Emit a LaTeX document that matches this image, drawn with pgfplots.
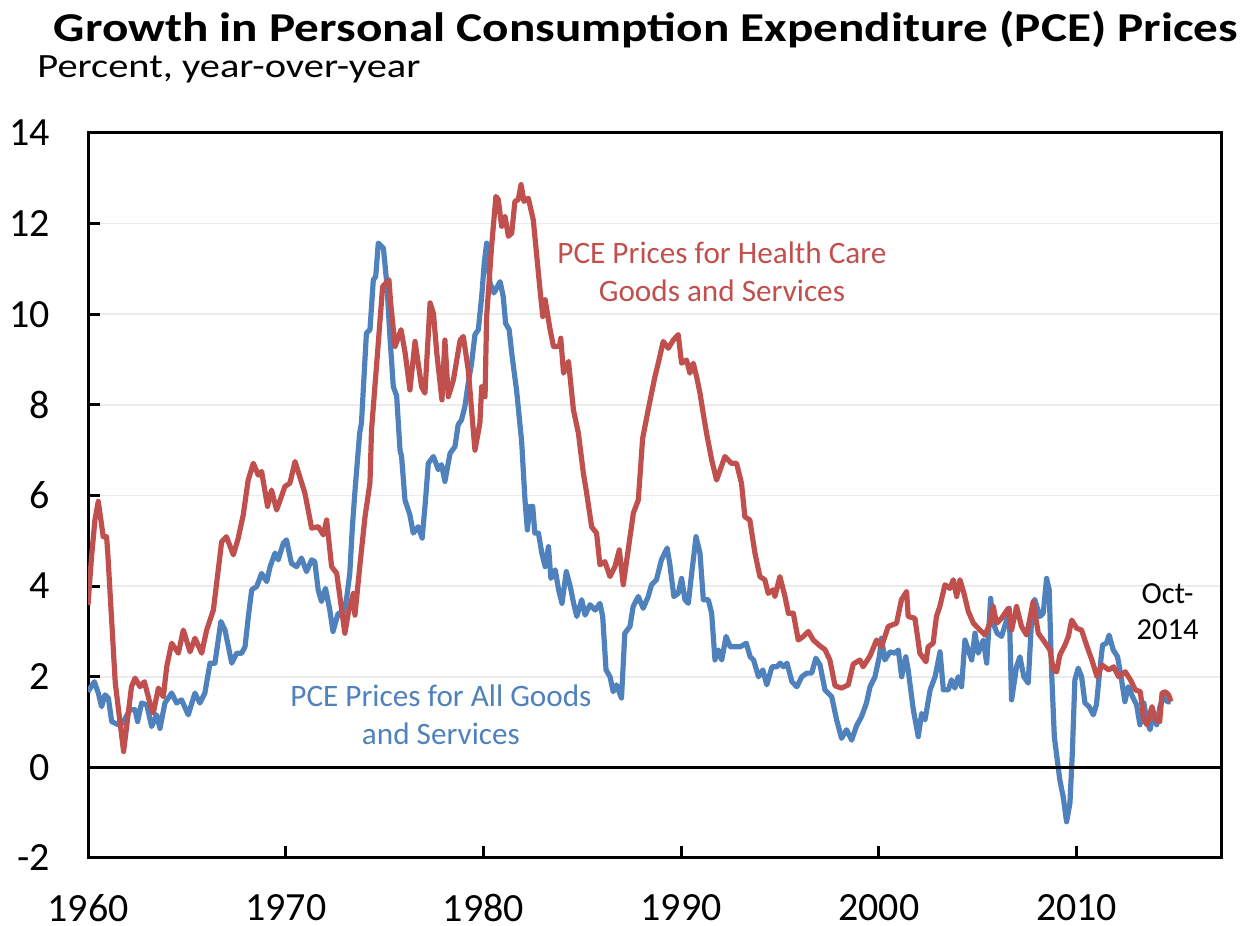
\documentclass[border=0pt]{standalone}
\usepackage{pgfplots}
\pgfplotsset{compat=1.18}
\usepackage{graphicx}
\usepackage{fontspec}
\setmainfont{Carlito}
\definecolor{pceblue}{RGB}{79,129,189}
\definecolor{pcered}{RGB}{192,80,77}
\begin{document}
\begin{tikzpicture}
\useasboundingbox (-44pt,-34pt) rectangle (577.5pt,429pt);
\begin{axis}[
    scale only axis,
    width=566.5pt, height=362.5pt,
    at={(0,0)}, anchor=south west,
    xmin=1960, xmax=2017.3,
    ymin=-2, ymax=14,
    xtick={1960,1970,1980,1990,2000,2010},
    xticklabels={1960,1970,1980,1990,2000,2010},
    ytick={-2,0,2,4,6,8,10,12,14},
    yticklabels={-2,0,2,4,6,8,10,12,14},
    xtick pos=left, ytick pos=left,
    tick align=inside,
    major tick length=6pt,
    every tick/.style={black, line width=1.5pt},
    axis line style={line width=1.5pt},
    ymajorgrids,
    major grid style={black!8, line width=0.8pt},
    ticklabel style={font=\fontsize{20}{22}\selectfont, inner sep=0pt},
    yticklabel style={xshift=-19pt},
    xticklabel style={yshift=-18pt},
    clip=true,
]
\addplot[pceblue, line width=2.6pt, line join=round] coordinates {
(1960.0,1.67)(1960.32,1.89)(1960.52,1.64)(1960.69,1.34)(1960.86,1.6)(1961.03,1.53)
(1961.2,1.01)(1961.53,0.94)(1961.74,0.97)(1962.12,1.27)(1962.38,1.27)(1962.51,1.01)
(1962.71,1.42)(1962.97,1.38)(1963.22,0.9)(1963.47,1.16)(1963.64,0.86)(1963.89,1.42)
(1964.23,1.64)(1964.48,1.42)(1964.73,1.49)(1965.07,1.16)(1965.41,1.64)(1965.66,1.42)
(1965.91,1.64)(1966.17,2.3)(1966.42,2.3)(1966.72,3.22)(1966.93,3.03)(1967.27,2.3)
(1967.52,2.52)(1967.77,2.52)(1967.94,2.66)(1968.11,3.33)(1968.28,3.92)(1968.53,3.99)
(1968.78,4.28)(1969.04,4.1)(1969.21,4.43)(1969.46,4.73)(1969.62,4.58)(1969.88,4.95)
(1970.04,5.02)(1970.29,4.5)(1970.55,4.43)(1970.8,4.62)(1971.05,4.32)(1971.31,4.58)
(1971.47,4.54)(1971.64,3.92)(1971.81,3.66)(1972.01,3.95)(1972.23,3.47)(1972.39,3.0)
(1972.65,3.4)(1972.9,3.4)(1973.07,3.7)(1973.24,4.28)(1973.37,5.31)(1973.52,6.2)
(1973.74,7.38)(1973.83,7.6)(1974.08,9.58)(1974.26,9.66)(1974.43,10.76)(1974.55,10.83)
(1974.68,11.57)(1974.94,11.46)(1975.11,10.69)(1975.27,9.51)(1975.44,8.4)(1975.61,8.2)
(1975.78,7.0)(1975.86,6.86)(1976.03,5.9)(1976.28,5.57)(1976.45,5.17)(1976.7,5.31)
(1976.9,5.06)(1977.07,5.9)(1977.21,6.71)(1977.47,6.86)(1977.72,6.57)(1977.88,6.68)
(1978.05,6.31)(1978.31,6.93)(1978.56,7.08)(1978.72,7.56)(1978.89,7.67)(1979.06,7.96)
(1979.23,8.48)(1979.4,8.92)(1979.57,9.55)(1979.74,9.66)(1979.91,10.39)(1980.04,11.13)
(1980.16,11.57)(1980.33,10.69)(1980.53,10.47)(1980.84,10.72)(1981.0,10.39)(1981.12,9.8)
(1981.3,9.66)(1981.43,9.14)(1981.68,8.3)(1981.93,7.2)(1982.1,5.9)(1982.22,5.24)
(1982.35,5.76)(1982.49,5.76)(1982.6,5.17)(1982.78,5.17)(1982.95,4.73)(1983.12,4.43)
(1983.29,4.87)(1983.41,4.17)(1983.63,4.36)(1983.8,3.92)(1983.97,3.62)(1984.19,4.32)
(1984.39,3.99)(1984.56,3.62)(1984.72,3.33)(1984.97,3.7)(1985.14,3.36)(1985.39,3.59)
(1985.65,3.47)(1985.89,3.62)(1986.03,3.33)(1986.2,2.15)(1986.4,2.0)(1986.56,1.67)
(1986.73,1.82)(1986.98,1.53)(1987.15,2.96)(1987.41,3.11)(1987.57,3.55)(1987.83,3.77)
(1988.08,3.51)(1988.33,3.77)(1988.5,4.03)(1988.75,4.14)(1989.0,4.58)(1989.29,4.84)
(1989.42,4.5)(1989.63,3.77)(1989.85,3.84)(1990.02,4.17)(1990.19,3.7)(1990.36,3.62)
(1990.53,4.28)(1990.75,5.09)(1990.95,4.73)(1991.12,3.7)(1991.37,3.7)(1991.54,3.4)
(1991.71,2.37)(1991.88,2.59)(1992.05,2.37)(1992.27,2.89)(1992.48,2.66)(1992.73,2.66)
(1992.98,2.66)(1993.29,2.74)(1993.49,2.44)(1993.66,2.37)(1993.91,2.0)(1994.13,2.15)
(1994.33,1.82)(1994.59,2.22)(1994.84,2.22)(1995.01,2.3)(1995.18,2.22)(1995.35,2.3)
(1995.6,1.89)(1995.85,1.78)(1996.1,2.0)(1996.35,2.08)(1996.6,2.08)(1996.81,2.41)
(1997.02,2.26)(1997.27,1.71)(1997.61,1.56)(1997.86,1.05)(1998.11,0.64)(1998.36,0.83)
(1998.62,0.6)(1998.87,0.92)(1999.12,1.12)(1999.37,1.42)(1999.55,1.78)(1999.8,2.0)
(2000.02,2.44)(2000.13,2.85)(2000.3,2.37)(2000.56,2.55)(2000.81,2.52)(2000.98,2.59)
(2001.15,2.0)(2001.36,2.44)(2001.48,2.15)(2001.74,1.27)(2001.99,0.68)(2002.16,1.19)
(2002.33,1.05)(2002.59,1.71)(2002.84,2.0)(2003.09,2.55)(2003.26,1.71)(2003.51,1.71)
(2003.67,1.93)(2003.84,1.75)(2004.01,2.0)(2004.18,1.78)(2004.35,2.81)(2004.52,2.59)
(2004.69,2.37)(2004.86,2.96)(2005.02,2.52)(2005.28,2.81)(2005.45,2.3)(2005.65,3.73)
(2005.78,3.18)(2005.98,2.96)(2006.2,2.89)(2006.46,3.25)(2006.59,3.51)(2006.71,1.49)
(2006.96,2.22)(2007.13,2.44)(2007.33,2.0)(2007.55,1.86)(2007.72,3.25)(2007.88,3.7)
(2008.14,3.33)(2008.31,3.4)(2008.48,4.17)(2008.61,3.92)(2008.73,2.15)(2008.87,0.68)
(2009.02,0.16)(2009.15,-0.28)(2009.32,-0.65)(2009.49,-1.2)(2009.66,-0.79)(2009.78,0.31)
(2009.91,1.93)(2010.08,2.19)(2010.25,2.0)(2010.42,1.42)(2010.63,1.34)(2010.84,1.16)
(2011.0,1.38)(2011.17,2.15)(2011.31,2.7)(2011.51,2.74)(2011.64,2.92)(2011.85,2.59)
(2012.07,2.44)(2012.27,1.93)(2012.44,1.45)(2012.61,1.78)(2012.86,1.53)(2013.03,1.38)
(2013.2,0.94)(2013.4,1.42)(2013.54,1.05)(2013.71,0.83)(2013.88,1.19)(2014.05,0.94)
(2014.21,1.34)(2014.38,1.56)(2014.59,1.45)(2014.75,1.45)
};
\addplot[pcered, line width=2.6pt, line join=round] coordinates {
(1960.0,3.58)(1960.18,4.65)(1960.35,5.46)(1960.52,5.87)(1960.77,5.09)(1960.94,5.09)
(1961.0,4.73)(1961.38,1.86)(1961.8,0.35)(1962.2,1.78)(1962.38,1.97)(1962.63,1.78)
(1962.85,1.89)(1963.22,1.27)(1963.3,1.2)(1963.56,1.75)(1963.81,1.56)(1963.98,2.22)
(1964.23,2.74)(1964.57,2.52)(1964.82,3.03)(1965.16,2.55)(1965.41,2.85)(1965.75,2.52)
(1966.0,3.03)(1966.34,3.47)(1966.76,4.98)(1967.0,5.09)(1967.35,4.69)(1967.6,5.06)
(1967.85,5.57)(1968.1,6.34)(1968.36,6.71)(1968.61,6.45)(1968.78,6.53)(1969.08,5.76)
(1969.28,6.12)(1969.54,5.68)(1969.96,6.2)(1970.21,6.27)(1970.47,6.75)(1970.97,6.05)
(1971.31,5.28)(1971.65,5.31)(1971.9,5.13)(1972.07,5.46)(1972.32,4.43)(1972.58,4.28)
(1972.99,2.96)(1973.16,3.4)(1973.42,3.84)(1973.5,3.36)(1973.76,4.5)(1974.01,5.53)
(1974.26,6.28)(1974.34,7.45)(1974.68,9.36)(1974.9,10.61)(1975.22,10.76)(1975.3,10.28)
(1975.53,9.29)(1975.83,9.66)(1976.04,9.14)(1976.28,8.33)(1976.54,9.4)(1976.87,8.4)
(1977.04,8.26)(1977.3,10.25)(1977.47,10.02)(1977.64,9.14)(1977.9,8.11)(1978.05,9.43)
(1978.22,8.18)(1978.48,8.55)(1978.82,9.43)(1978.98,9.51)(1979.23,8.77)(1979.57,7.0)
(1979.82,7.6)(1979.91,8.4)(1980.08,8.18)(1980.16,9.95)(1980.41,11.49)(1980.63,12.6)
(1980.75,12.53)(1980.92,11.94)(1981.09,12.16)(1981.26,11.72)(1981.43,11.79)(1981.59,12.49)
(1981.76,12.53)(1981.9,12.86)(1982.05,12.49)(1982.27,12.56)(1982.52,12.08)(1982.86,10.54)
(1983.0,9.95)(1983.12,10.32)(1983.37,9.66)(1983.54,9.29)(1983.84,9.29)(1983.91,9.47)
(1984.05,8.7)(1984.3,8.96)(1984.55,7.89)(1984.8,7.38)(1985.05,6.5)(1985.22,6.05)
(1985.47,5.31)(1985.72,5.17)(1985.89,4.47)(1986.14,4.54)(1986.4,4.21)(1986.65,4.43)
(1986.87,4.8)(1987.07,4.03)(1987.32,4.8)(1987.58,5.61)(1987.83,5.9)(1988.05,7.26)
(1988.33,7.89)(1988.67,8.62)(1988.84,8.92)(1989.09,9.4)(1989.35,9.25)(1989.6,9.43)
(1989.85,9.55)(1990.02,8.92)(1990.27,8.99)(1990.44,8.7)(1990.61,8.92)(1990.78,8.62)
(1990.95,8.26)(1991.11,7.82)(1991.28,7.38)(1991.54,6.79)(1991.79,6.34)(1992.21,6.86)
(1992.54,6.71)(1992.8,6.71)(1993.05,6.27)(1993.22,5.53)(1993.47,5.46)(1993.73,4.73)
(1993.98,4.21)(1994.23,4.14)(1994.4,3.84)(1994.66,3.92)(1994.74,3.77)(1994.99,4.21)
(1995.25,3.77)(1995.42,3.4)(1995.67,3.4)(1995.92,2.81)(1996.18,2.89)(1996.43,3.0)
(1996.68,2.81)(1997.02,2.68)(1997.27,2.6)(1997.52,2.37)(1997.78,1.8)(1998.11,1.75)
(1998.45,1.82)(1998.7,2.28)(1999.04,2.37)(1999.2,2.22)(1999.55,2.46)(1999.88,2.81)
(2000.13,2.66)(2000.47,3.11)(2000.89,3.18)(2001.14,3.7)(2001.4,3.88)(2001.48,3.33)
(2001.82,3.29)(2002.07,2.52)(2002.38,2.33)(2002.49,2.66)(2002.74,2.74)(2002.91,3.33)
(2003.08,3.55)(2003.34,4.03)(2003.59,3.95)(2003.76,4.14)(2003.93,3.77)(2004.1,4.14)
(2004.3,3.84)(2004.52,3.44)(2004.78,3.18)(2005.11,3.03)(2005.37,2.92)(2005.61,3.18)
(2005.78,3.55)(2005.95,3.18)(2006.2,3.29)(2006.54,3.51)(2006.71,3.03)(2006.96,3.55)
(2007.21,3.11)(2007.47,2.92)(2007.8,3.66)(2008.06,2.96)(2008.31,2.81)(2008.65,2.59)
(2008.82,2.15)(2008.99,2.11)(2009.15,2.48)(2009.41,2.7)(2009.58,2.89)(2009.75,3.25)
(2010.0,3.07)(2010.25,3.03)(2010.53,2.66)(2010.77,2.37)(2011.03,2.0)(2011.28,2.26)
(2011.62,2.15)(2011.87,2.22)(2012.12,2.0)(2012.46,2.11)(2012.72,1.93)(2012.97,1.71)
(2013.22,1.67)(2013.39,1.05)(2013.56,0.94)(2013.81,1.34)(2013.98,1.05)(2014.2,1.01)
(2014.32,1.64)(2014.48,1.67)(2014.65,1.6)(2014.77,1.45)
};
\addplot[black, line width=1.5pt] coordinates {(1960,0)(2017.3,0)};
\node[pcered, align=center, font=\fontsize{15.6}{19}\selectfont] at (axis cs:1992.06,10.94)
  {PCE Prices for Health Care\\Goods and Services};
\node[pceblue, align=center, font=\fontsize{15.6}{19}\selectfont] at (axis cs:1977.85,1.16)
  {PCE Prices for All Goods\\and Services};
\node[black, align=center, font=\fontsize{15.3}{18}\selectfont] at (axis cs:2014.6,3.43)
  {Oct-\\2014};
\end{axis}
\node[anchor=base, inner sep=0pt, font=\fontsize{20.5}{22}\selectfont\bfseries] at (279pt,408pt)
  {\scalebox{1.2}[1]{Growth in Personal Consumption Expenditure (PCE) Prices}};
\node[anchor=base west, inner sep=0pt, font=\fontsize{17}{19}\selectfont] at (-25.5pt,390pt)
  {\scalebox{1.19}[1]{Percent, year-over-year}};
\end{tikzpicture}
\end{document}
